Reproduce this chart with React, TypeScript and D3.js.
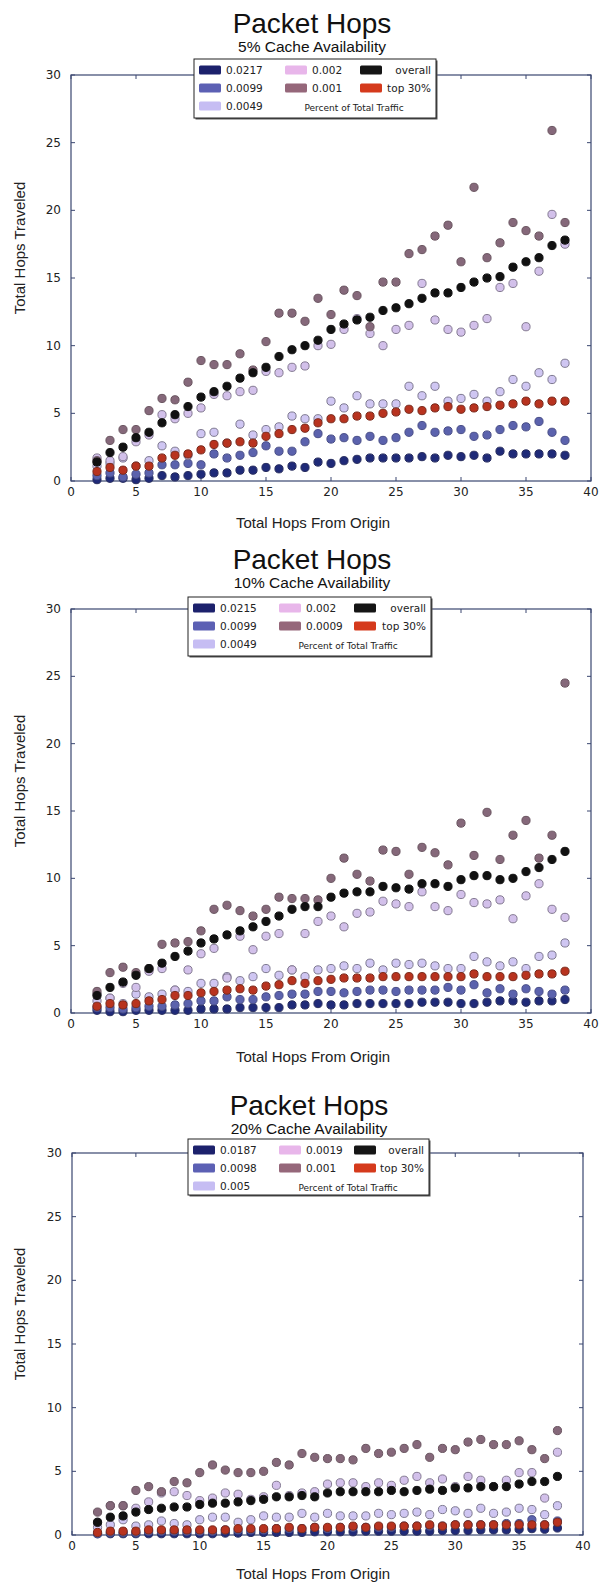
import * as d3 from "d3";

// hop counts on the x axis (same for every panel)
const hops = [2, 3, 4, 5, 6, 7, 8, 9, 10, 11, 12, 13, 14, 15, 16, 17, 18, 19, 20, 21, 22, 23, 24, 25, 26, 27, 28, 29, 30, 31, 32, 33, 34, 35, 36, 37, 38];

const xTicks = [0, 5, 10, 15, 20, 25, 30, 35, 40];
const yTicks = [0, 5, 10, 15, 20, 25, 30];

// ---- 5% cache availability ----
const c5Labels = ["0.0217", "0.0099", "0.0049", "0.002", "0.001", "overall", "top 30%"];
const c5Navy = [0.1, 0.2, 0.2, 0.1, 0.2, 0.4, 0.3, 0.4, 0.5, 0.6, 0.6, 0.8, 0.8, 1.0, 0.9, 1.1, 1.0, 1.4, 1.3, 1.5, 1.6, 1.7, 1.7, 1.7, 1.7, 1.8, 1.7, 1.9, 1.8, 1.9, 1.7, 2.2, 2.0, 2.0, 2.0, 2.0, 1.9];
const c5Blue = [0.4, 0.6, 0.3, 0.5, 0.6, 1.2, 1.2, 1.3, 1.2, 2.0, 1.7, 1.9, 2.1, 2.6, 2.2, 2.2, 2.9, 3.5, 3.1, 3.2, 3.0, 3.3, 3.0, 3.2, 3.6, 4.1, 3.6, 3.7, 3.8, 3.3, 3.4, 3.8, 4.1, 4.0, 4.4, 3.6, 3.0];
const c5Light = [1.1, 1.3, 1.7, 1.1, 1.5, 2.6, 2.2, 1.9, 3.5, 3.6, 2.8, 4.2, 3.4, 3.8, 4.0, 4.8, 4.6, 4.6, 5.9, 5.4, 6.3, 5.7, 5.7, 5.7, 7.0, 6.3, 7.0, 5.9, 6.1, 6.4, 5.9, 6.6, 7.5, 7.0, 8.0, 7.5, 8.7];
const c5Pink = [1.7, 1.5, 1.8, 2.9, 3.4, 4.9, 4.6, 5.0, 5.4, 6.4, 6.3, 6.6, 6.7, 8.1, 8.0, 8.4, 8.5, 10.0, 10.1, 11.2, 12.0, 10.9, 10.0, 11.2, 11.5, 14.6, 11.9, 11.2, 11.0, 11.5, 12.0, 14.3, 14.6, 11.4, 15.5, 19.7, 17.5];
const c5Mauve = [1.5, 3.0, 3.8, 3.8, 5.2, 6.1, 6.0, 7.3, 8.9, 8.6, 8.6, 9.4, 8.2, 10.3, 12.4, 12.4, 11.8, 13.5, 12.3, 14.1, 13.7, 11.4, 14.7, 14.7, 16.8, 17.1, 18.1, 18.9, 16.2, 21.7, 16.5, 17.6, 19.1, 18.5, 18.1, 25.9, 19.1];
const c5Overall = [1.4, 2.1, 2.5, 3.2, 3.6, 4.3, 4.9, 5.5, 6.2, 6.6, 7.0, 7.6, 8.0, 8.4, 9.2, 9.7, 10.0, 10.4, 11.2, 11.6, 11.9, 12.1, 12.6, 12.8, 13.1, 13.5, 13.9, 13.9, 14.3, 14.7, 15.0, 15.1, 15.8, 16.2, 16.5, 17.4, 17.8];
const c5Top30 = [0.7, 1.0, 0.8, 1.1, 1.1, 1.7, 1.9, 2.0, 2.3, 2.7, 2.8, 2.9, 2.8, 3.3, 3.5, 3.8, 3.9, 4.3, 4.6, 4.6, 4.8, 4.8, 5.0, 5.1, 5.3, 5.2, 5.4, 5.5, 5.3, 5.4, 5.5, 5.6, 5.7, 5.9, 5.7, 5.9, 5.9];

// ---- 10% cache availability ----
const c10Labels = ["0.0215", "0.0099", "0.0049", "0.002", "0.0009", "overall", "top 30%"];
const c10Navy = [0.2, 0.1, 0.1, 0.2, 0.2, 0.2, 0.2, 0.2, 0.3, 0.3, 0.3, 0.4, 0.4, 0.4, 0.4, 0.6, 0.6, 0.7, 0.6, 0.6, 0.7, 0.7, 0.7, 0.7, 0.7, 0.8, 0.8, 0.8, 0.7, 0.7, 0.8, 0.9, 0.9, 0.8, 0.9, 0.9, 1.0];
const c10Blue = [0.4, 0.4, 0.3, 0.4, 0.5, 0.5, 0.6, 0.7, 0.9, 0.9, 1.2, 1.0, 1.0, 1.2, 1.3, 1.4, 1.4, 1.6, 1.6, 1.5, 1.6, 1.7, 1.7, 1.6, 1.7, 1.7, 1.7, 1.9, 1.7, 2.1, 1.5, 1.8, 1.4, 1.8, 1.6, 1.4, 1.7];
const c10Light = [0.9, 1.1, 0.7, 1.4, 1.2, 1.4, 1.7, 1.6, 2.2, 2.2, 2.7, 2.4, 2.7, 3.3, 2.8, 3.2, 2.7, 3.2, 3.3, 3.5, 3.3, 3.7, 3.2, 3.7, 3.6, 3.7, 3.5, 3.3, 3.3, 4.2, 3.8, 3.5, 3.8, 3.3, 4.2, 4.3, 5.2];
const c10Pink = [1.4, 1.1, 2.2, 1.9, 3.1, 3.3, 1.7, 3.2, 4.4, 4.8, 2.6, 5.7, 4.7, 5.7, 5.9, 3.2, 5.9, 6.8, 7.2, 6.4, 7.4, 7.5, 8.3, 8.1, 7.9, 9.0, 7.9, 7.6, 8.8, 8.2, 8.1, 8.4, 7.0, 8.7, 9.6, 7.7, 7.1];
const c10Mauve = [1.6, 3.0, 3.4, 3.0, 3.3, 5.1, 5.2, 5.3, 6.1, 7.7, 8.0, 7.6, 7.2, 7.7, 8.6, 8.5, 8.5, 8.4, 10.0, 11.5, 10.3, 9.8, 12.1, 12.0, 10.3, 12.3, 11.9, 11.0, 14.1, 11.7, 14.9, 11.4, 13.2, 14.3, 11.5, 13.2, 24.5];
const c10Overall = [1.3, 1.9, 2.3, 2.8, 3.3, 3.7, 4.2, 4.6, 5.2, 5.5, 5.8, 6.1, 6.4, 6.8, 7.2, 7.7, 7.9, 7.9, 8.6, 8.9, 9.0, 9.0, 9.4, 9.3, 9.2, 9.6, 9.6, 9.4, 9.9, 10.2, 10.2, 9.9, 10.0, 10.5, 10.8, 11.4, 12.0];
const c10Top30 = [0.5, 0.7, 0.6, 0.7, 0.9, 1.0, 1.3, 1.3, 1.5, 1.6, 1.7, 1.8, 1.7, 2.0, 2.1, 2.4, 2.2, 2.4, 2.5, 2.6, 2.6, 2.6, 2.7, 2.7, 2.7, 2.7, 2.7, 2.7, 2.7, 2.9, 2.7, 2.7, 2.7, 2.8, 2.9, 2.9, 3.1];

// ---- 20% cache availability ----
const c20Labels = ["0.0187", "0.0098", "0.005", "0.0019", "0.001", "overall", "top 30%"];
const c20Navy = [0.1, 0.1, 0.1, 0.1, 0.1, 0.1, 0.1, 0.1, 0.1, 0.1, 0.15, 0.15, 0.2, 0.2, 0.2, 0.2, 0.2, 0.25, 0.25, 0.25, 0.25, 0.3, 0.3, 0.3, 0.3, 0.3, 0.3, 0.35, 0.35, 0.35, 0.4, 0.4, 0.4, 0.45, 0.5, 0.45, 0.55];
const c20Blue = [0.1, 0.2, 0.2, 0.2, 0.3, 0.3, 0.3, 0.3, 0.3, 0.3, 0.4, 0.4, 0.4, 0.4, 0.5, 0.5, 0.5, 0.6, 0.5, 0.6, 0.6, 0.6, 0.6, 0.6, 0.7, 0.7, 0.7, 0.7, 0.8, 0.8, 0.8, 0.8, 0.9, 0.9, 1.2, 0.8, 1.1];
const c20Light = [0.6, 0.8, 1.2, 0.7, 0.8, 1.1, 0.9, 0.8, 1.2, 1.4, 1.4, 1.0, 1.2, 1.5, 1.4, 1.4, 1.7, 1.4, 1.7, 1.5, 1.5, 1.5, 1.7, 1.6, 1.7, 1.8, 1.6, 2.0, 1.9, 1.7, 2.1, 1.7, 1.8, 2.1, 2.0, 1.6, 2.3];
const c20Pink = [1.0, 2.3, 2.3, 2.1, 2.6, 3.3, 3.4, 3.1, 2.7, 2.9, 3.3, 3.2, 2.8, 3.0, 3.9, 3.1, 3.3, 3.4, 4.0, 4.1, 4.1, 3.8, 4.1, 3.9, 4.3, 4.6, 4.1, 4.4, 3.8, 4.6, 4.3, 3.8, 4.3, 4.9, 4.9, 2.9, 6.5];
const c20Mauve = [1.8, 2.3, 2.3, 3.5, 3.8, 3.4, 4.2, 4.1, 4.9, 5.5, 5.1, 4.9, 4.9, 5.0, 5.7, 5.5, 6.4, 6.1, 6.0, 6.0, 5.9, 6.8, 6.4, 6.5, 6.8, 7.1, 6.1, 6.8, 6.7, 7.3, 7.5, 7.1, 7.1, 7.4, 6.7, 6.0, 8.2];
const c20Overall = [1.0, 1.4, 1.5, 1.8, 2.0, 2.1, 2.2, 2.2, 2.4, 2.5, 2.5, 2.6, 2.7, 2.8, 3.0, 3.0, 3.1, 3.0, 3.3, 3.4, 3.4, 3.4, 3.4, 3.5, 3.4, 3.5, 3.6, 3.5, 3.7, 3.7, 3.8, 3.8, 3.8, 4.0, 4.2, 4.2, 4.6];
const c20Top30 = [0.2, 0.3, 0.3, 0.3, 0.4, 0.4, 0.4, 0.4, 0.4, 0.4, 0.4, 0.5, 0.5, 0.5, 0.5, 0.6, 0.5, 0.6, 0.6, 0.6, 0.7, 0.6, 0.7, 0.7, 0.7, 0.7, 0.8, 0.7, 0.8, 0.8, 0.8, 0.8, 0.8, 0.8, 0.8, 0.8, 1.0];

// legend patch colour / point colour for each series, in plot order
const patchColors = ["#1c216c", "#5c60b4", "#c6bdf3", "#e8b6ea", "#95677a", "#151515", "#d53a1c"];
const pointColors = ["#1f2a78", "#5b62ad", "#cfc6f2", "#d2c0ea", "#85687a", "#111111", "#b8331f"];
const pointStroke = ["#2a2f60", "#4a4f88", "#7e7990", "#847a92", "#6a5560", "#111111", "#7a2a1c"];

const sansFont = "'Liberation Sans', Arial, sans-serif";
const tickFont = "'DejaVu Sans', Verdana, sans-serif";

interface PanelProps {
  subtitle: string;
  labels: string[];
  series: number[][];
  left: number;
  right: number;
  top: number;
  bottom: number;
  titleX: number;
  titleY: number;
  legendX: number;
  legendY: number;
  legendW: number;
  legendH: number;
  xLabelY: number;
}

const Panel = (p: PanelProps) => {
  const x = d3.scaleLinear().domain([0, 40]).range([p.left, p.right]);
  const y = d3.scaleLinear().domain([0, 30]).range([p.bottom, p.top]);
  const frame = "#3a4670";

  // legend slots: column / row
  const slots = [
    [0, 0], [0, 1], [0, 2],
    [1, 0], [1, 1],
    [2, 0], [2, 1],
  ];
  const colPatch = [5, 91, 166];
  const rowY = [11, 29, 47];

  return (
    <g>
      <text x={p.titleX} y={p.titleY} textAnchor="middle" fontFamily={sansFont} fontSize={28} fill="#111">
        Packet Hops
      </text>
      <text x={p.titleX} y={p.titleY + 19} textAnchor="middle" fontFamily={sansFont} fontSize={15.5} fill="#111">
        {p.subtitle}
      </text>

      {/* plot frame */}
      <rect x={p.left} y={p.top} width={p.right - p.left} height={p.bottom - p.top} fill="#fff" stroke={frame} strokeWidth={1.2} />

      {/* ticks inward on all sides */}
      {xTicks.map((t) => (
        <g key={"xt" + t}>
          <line x1={x(t)} x2={x(t)} y1={p.bottom} y2={p.bottom - 4} stroke={frame} />
          <line x1={x(t)} x2={x(t)} y1={p.top} y2={p.top + 4} stroke={frame} />
          <text x={x(t)} y={p.bottom + 15} textAnchor="middle" fontFamily={tickFont} fontSize={12} fill="#222">
            {t}
          </text>
        </g>
      ))}
      {yTicks.map((t) => (
        <g key={"yt" + t}>
          <line x1={p.left} x2={p.left + 4} y1={y(t)} y2={y(t)} stroke={frame} />
          <line x1={p.right} x2={p.right - 4} y1={y(t)} y2={y(t)} stroke={frame} />
          <text x={p.left - 10} y={y(t) + 4} textAnchor="end" fontFamily={tickFont} fontSize={12} fill="#222">
            {t}
          </text>
        </g>
      ))}

      {/* scatter points */}
      {p.series.map((vals, si) => (
        <g key={"s" + si}>
          {vals.map((v, i) => (
            <circle
              key={i}
              cx={x(hops[i])}
              cy={y(v)}
              r={4.1}
              fill={pointColors[si]}
              stroke={pointStroke[si]}
              strokeWidth={1}
            />
          ))}
        </g>
      ))}

      {/* axis labels */}
      <text x={313} y={p.xLabelY} textAnchor="middle" fontFamily={sansFont} fontSize={15} fill="#222">
        Total Hops From Origin
      </text>
      <text
        transform={`translate(25, ${(p.top + p.bottom) / 2 - 30}) rotate(-90)`}
        textAnchor="middle"
        fontFamily={sansFont}
        fontSize={15}
        fill="#222"
      >
        Total Hops Traveled
      </text>

      {/* legend */}
      <rect x={p.legendX + 1.5} y={p.legendY + 1.5} width={p.legendW} height={p.legendH} fill="#555" />
      <rect x={p.legendX} y={p.legendY} width={p.legendW} height={p.legendH} fill="#fff" stroke="#222" strokeWidth={1} />
      {p.labels.map((lab, i) => {
        const [c, r] = slots[i];
        const px = p.legendX + colPatch[c];
        const py = p.legendY + rowY[r];
        return (
          <g key={"lg" + i}>
            <rect x={px} y={py - 4.5} width={22} height={9} rx={1.5} fill={patchColors[i]} />
            {c < 2 ? (
              <text x={px + 27} y={py + 4} fontFamily={tickFont} fontSize={10.5} fill="#222">
                {lab}
              </text>
            ) : (
              <text x={p.legendX + p.legendW - 5} y={py + 4} textAnchor="end" fontFamily={tickFont} fontSize={10.5} fill="#222">
                {lab}
              </text>
            )}
          </g>
        );
      })}
      <text x={p.legendX + 160} y={p.legendY + rowY[2] + 5} textAnchor="middle" fontFamily={tickFont} fontSize={9} fill="#222">
        Percent of Total Traffic
      </text>
    </g>
  );
};

const App = () => {
  return (
    <svg
      width={603}
      height={1583}
      style={{ position: "absolute", left: 0, top: 0, background: "#fff" }}
    >
      <rect width={603} height={1583} fill="#fff" />
      <Panel
        subtitle="5% Cache Availability"
        labels={c5Labels}
        series={[c5Navy, c5Blue, c5Light, c5Pink, c5Mauve, c5Overall, c5Top30]}
        left={71}
        right={591}
        top={75}
        bottom={481}
        titleX={312}
        titleY={33}
        legendX={194}
        legendY={59}
        legendW={242}
        legendH={59}
        xLabelY={528}
      />
      <Panel
        subtitle="10% Cache Availability"
        labels={c10Labels}
        series={[c10Navy, c10Blue, c10Light, c10Pink, c10Mauve, c10Overall, c10Top30]}
        left={71}
        right={591}
        top={609}
        bottom={1013}
        titleX={312}
        titleY={569}
        legendX={188}
        legendY={597}
        legendW={243}
        legendH={59}
        xLabelY={1062}
      />
      <Panel
        subtitle="20% Cache Availability"
        labels={c20Labels}
        series={[c20Navy, c20Blue, c20Light, c20Pink, c20Mauve, c20Overall, c20Top30]}
        left={72}
        right={583}
        top={1153}
        bottom={1535}
        titleX={309}
        titleY={1115}
        legendX={188}
        legendY={1139}
        legendW={241}
        legendH={56}
        xLabelY={1579}
      />
    </svg>
  );
};

export default App;
